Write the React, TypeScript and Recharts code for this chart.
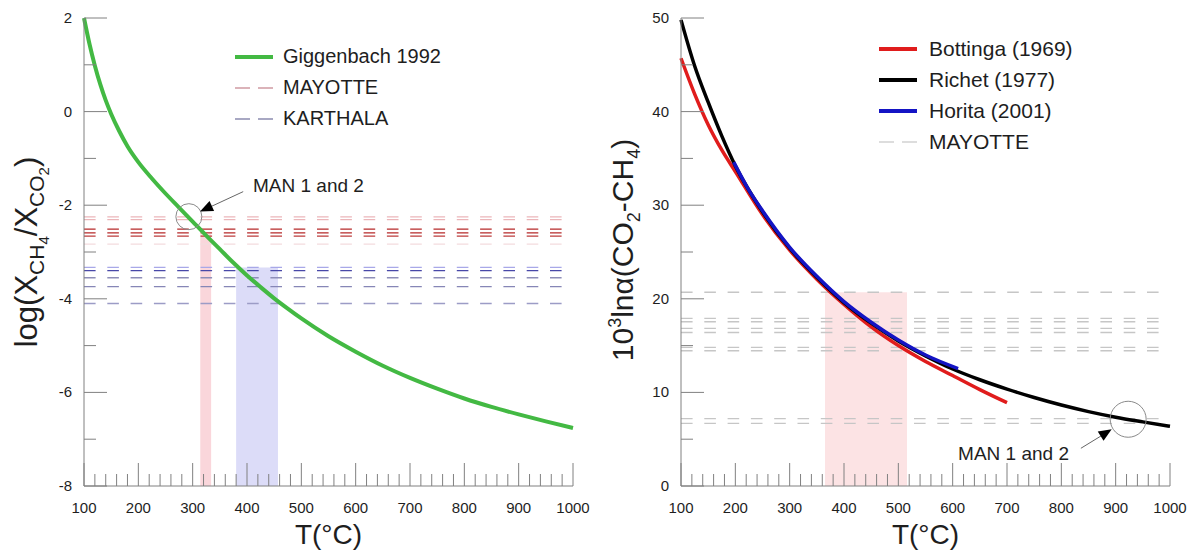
import React from 'react';
import {
  LineChart,
  Line,
  XAxis,
  YAxis,
  ReferenceLine,
  ReferenceArea,
  ReferenceDot,
  Legend,
} from 'recharts';

const FONT = '"Liberation Sans", Arial, Helvetica, sans-serif';
const AXIS_COLOR = '#808080';
const TEXT_COLOR = '#1e1e1e';
const TICK_GAP = 14;

// shared temperature axis (°C)
const tempLabels = [100, 200, 300, 400, 500, 600, 700, 800, 900, 1000];

// left panel: Giggenbach (1992) log(XCH4/XCO2) vs T
const gigTemp = [100, 110, 120, 130, 140, 150, 165, 180, 200, 225, 250, 275, 300, 325, 350, 375, 400, 425, 450, 475, 500, 550, 600, 650, 700, 750, 800, 850, 900, 950, 1000];
const gigLog = [2.0, 1.45, 0.98, 0.58, 0.24, -0.05, -0.42, -0.74, -1.08, -1.43, -1.75, -2.05, -2.35, -2.65, -2.94, -3.23, -3.5, -3.75, -3.99, -4.21, -4.42, -4.8, -5.13, -5.43, -5.69, -5.92, -6.13, -6.31, -6.47, -6.62, -6.76];
const mayotteLog = [-2.25, -2.31, -2.51, -2.59, -2.66, -2.83];
const karthalaLog = [-3.33, -3.4, -3.55, -3.74, -4.1];
const mayotteLogBand = { t1: 314, t2: 334, top: -2.62 };
const karthalaLogBand = { t1: 380, t2: 457, top: -3.33 };
const logLabels = [-8, -6, -4, -2, 0, 2];

// right panel: 10^3 ln alpha (CO2-CH4) vs T
const bottingaTemp = [100, 125, 150, 175, 200, 250, 300, 350, 400, 450, 500, 550, 600, 650, 700];
const bottingaAlpha = [45.7, 41.9, 38.6, 35.9, 33.6, 29.0, 25.2, 22.1, 19.4, 17.0, 15.0, 13.3, 11.8, 10.3, 8.9];
const richetTemp = [100, 125, 150, 175, 200, 250, 300, 350, 400, 450, 500, 550, 600, 650, 700, 750, 800, 850, 900, 950, 1000];
const richetAlpha = [49.8, 44.9, 41.0, 37.4, 34.2, 29.3, 25.4, 22.3, 19.6, 17.4, 15.5, 13.9, 12.5, 11.35, 10.35, 9.45, 8.65, 7.95, 7.35, 6.85, 6.38];
const horitaTemp = [197, 225, 250, 300, 350, 400, 450, 500, 550, 610];
const horitaAlpha = [34.6, 31.6, 29.4, 25.5, 22.4, 19.7, 17.5, 15.6, 14.0, 12.55];
const mayotteAlpha = [20.7, 17.9, 17.55, 16.85, 16.4, 14.8, 14.45, 7.2, 6.7];
const mayotteAlphaBand = { t1: 365, t2: 516, top: 20.7 };
const alphaLabels = [0, 10, 20, 30, 40, 50];

// "MAN 1 and 2" callouts (data coordinates)
const manLeft = { circle: [293, -2.245], text: [411, -1.72], from: [393, -1.71], to: [333.6, -2.03], tip: [313.5, -2.135] };
const manRight = { circle: [923, 7.13], text: [610, 2.78], from: [836, 4.03], to: [874, 5.38], tip: [892.7, 6.06] };

const tempTicks = tempLabels.flatMap((t) => (t === 1000 ? [t] : [t, t + 20, t + 40, t + 60, t + 80]));
const logTicks = logLabels.flatMap((v) => (v === 2 ? [v] : [v, v + 1]));
const alphaTicks = alphaLabels.flatMap((v) => (v === 50 ? [v] : [v, v + 5]));

type TickProps = { x: number; y: number; payload: { value: number } };

function xTick(labels: number[]) {
  return ({ x, y, payload }: TickProps) => {
    const major = labels.includes(payload.value);
    const base = y - TICK_GAP;
    return (
      <g>
        <line x1={x} x2={x} y1={base} y2={base - (major ? 23 : 12)} stroke={AXIS_COLOR} strokeWidth={1} />
        {major && (
          <text x={x} y={base + 27} textAnchor="middle" fontSize={15} fontFamily={FONT} fill={TEXT_COLOR}>
            {payload.value}
          </text>
        )}
      </g>
    );
  };
}

function yTick(labels: number[]) {
  return ({ x, y, payload }: TickProps) => {
    const major = labels.includes(payload.value);
    const base = x + TICK_GAP;
    return (
      <g>
        <line x1={base} x2={base + (major ? 23 : 12)} y1={y} y2={y} stroke={AXIS_COLOR} strokeWidth={1} />
        {major && (
          <text x={base - 12} y={y + 5} textAnchor="end" fontSize={15} fontFamily={FONT} fill={TEXT_COLOR}>
            {payload.value}
          </text>
        )}
      </g>
    );
  };
}

type LegendItem = { label: string; color: string; dashed?: boolean };

function LegendBox({ items, gap, fontSize }: { items: LegendItem[]; gap: number; fontSize: number }) {
  return (
    <div style={{ fontFamily: FONT, fontSize, color: TEXT_COLOR, whiteSpace: 'nowrap' }}>
      {items.map((it) => (
        <div key={it.label} style={{ display: 'flex', alignItems: 'center', height: 31 }}>
          <svg width={38} height={8} style={{ marginRight: gap }}>
            <line
              x1={0}
              x2={38}
              y1={4}
              y2={4}
              stroke={it.color}
              strokeWidth={it.dashed ? 1.3 : 4}
              strokeDasharray={it.dashed ? '15 8' : undefined}
            />
          </svg>
          <span>{it.label}</span>
        </div>
      ))}
    </div>
  );
}

function xTitle() {
  return (props: any) => {
    const vb = props.viewBox;
    return (
      <text x={vb.x + vb.width / 2} y={544} textAnchor="middle" fontSize={28} fontFamily={FONT} fill={TEXT_COLOR}>
        T(°C)
      </text>
    );
  };
}

function arrowHead(angle: number) {
  return (p: any) => (
    <polygon
      points="0,0 -13,-5.5 -13,5.5"
      fill="#000"
      transform={`translate(${p.cx},${p.cy}) rotate(${angle})`}
    />
  );
}

function calloutText(p: any) {
  return (
    <text x={p.cx} y={p.cy} fontSize={19} fontFamily={FONT} fill={TEXT_COLOR}>
      MAN 1 and 2
    </text>
  );
}

const mayotteLogColors = ['#ebb6ba', '#ebb6ba', '#b62a2a', '#b62a2a', '#bd3c3c', '#f4dcde'];
const karthalaLogColors = ['#a8a8e8', '#4848a8', '#8e8eb8', '#8686b6', '#9c9cc6'];

function LeftPanel() {
  const gigData = gigTemp.map((t, i) => ({ t, v: gigLog[i] }));
  return (
    <LineChart width={600} height={557} margin={{ top: 18, right: 27, bottom: 0, left: 0 }}>
      <XAxis
        type="number"
        dataKey="t"
        domain={[100, 1000]}
        ticks={tempTicks}
        interval={0}
        height={71}
        tickSize={0}
        tickMargin={TICK_GAP}
        tickLine={false}
        axisLine={{ stroke: AXIS_COLOR }}
        tick={xTick(tempLabels)}
        label={{ content: xTitle() }}
      />
      <YAxis
        type="number"
        domain={[-8, 2]}
        ticks={logTicks}
        interval={0}
        width={84}
        tickSize={0}
        tickMargin={TICK_GAP}
        tickLine={false}
        axisLine={{ stroke: AXIS_COLOR }}
        tick={yTick(logLabels)}
        label={{
          content: () => (
            <text transform="translate(37,252) rotate(-90)" textAnchor="middle" fontSize={31} fontFamily={FONT} fill={TEXT_COLOR}>
              log(X
              <tspan fontSize={21} dy={7}>CH</tspan>
              <tspan fontSize={15} dy={5}>4</tspan>
              <tspan dy={-12}>/X</tspan>
              <tspan fontSize={21} dy={7}>CO</tspan>
              <tspan fontSize={15} dy={5}>2</tspan>
              <tspan dy={-12}>)</tspan>
            </text>
          ),
        }}
      />
      <ReferenceArea
        x1={mayotteLogBand.t1}
        x2={mayotteLogBand.t2}
        y1={-8}
        y2={mayotteLogBand.top}
        fill="#fad6db"
        fillOpacity={1}
        stroke="none"
      />
      <ReferenceArea
        x1={karthalaLogBand.t1}
        x2={karthalaLogBand.t2}
        y1={-8}
        y2={karthalaLogBand.top}
        fill="#dcdcf8"
        fillOpacity={1}
        stroke="none"
      />
      {mayotteLog.map((v, i) => (
        <ReferenceLine key={`m${i}`} y={v} stroke={mayotteLogColors[i]} strokeWidth={1.3} strokeDasharray="11.6 11.7" />
      ))}
      {karthalaLog.map((v, i) => (
        <ReferenceLine key={`k${i}`} y={v} stroke={karthalaLogColors[i]} strokeWidth={1.3} strokeDasharray="11.6 11.7" />
      ))}
      <Line
        data={gigData}
        dataKey="v"
        type="monotone"
        stroke="#43b943"
        strokeWidth={4}
        dot={false}
        isAnimationActive={false}
      />
      <ReferenceDot x={manLeft.circle[0]} y={manLeft.circle[1]} r={13} fill="none" stroke="#8a8a8a" strokeWidth={1} />
      <ReferenceLine
        segment={[
          { x: manLeft.from[0], y: manLeft.from[1] },
          { x: manLeft.to[0], y: manLeft.to[1] },
        ]}
        stroke="#666"
        strokeWidth={1}
      />
      <ReferenceDot x={manLeft.tip[0]} y={manLeft.tip[1]} shape={arrowHead(155.4)} />
      <ReferenceDot x={manLeft.text[0]} y={manLeft.text[1]} shape={calloutText} />
      <Legend
        layout="vertical"
        align="center"
        verticalAlign="middle"
        wrapperStyle={{ left: 235, top: 41, width: 'auto' }}
        content={() => (
          <LegendBox
            gap={10}
            fontSize={20}
            items={[
              { label: 'Giggenbach 1992', color: '#43b943' },
              { label: 'MAYOTTE', color: '#cf9aa2', dashed: true },
              { label: 'KARTHALA', color: '#8c8cb0', dashed: true },
            ]}
          />
        )}
      />
    </LineChart>
  );
}

function RightPanel() {
  const bottinga = bottingaTemp.map((t, i) => ({ t, v: bottingaAlpha[i] }));
  const richet = richetTemp.map((t, i) => ({ t, v: richetAlpha[i] }));
  const horita = horitaTemp.map((t, i) => ({ t, v: horitaAlpha[i] }));
  return (
    <LineChart width={598} height={557} margin={{ top: 18, right: 28, bottom: 0, left: 0 }}>
      <XAxis
        type="number"
        dataKey="t"
        domain={[100, 1000]}
        ticks={tempTicks}
        interval={0}
        height={71}
        tickSize={0}
        tickMargin={TICK_GAP}
        tickLine={false}
        axisLine={{ stroke: AXIS_COLOR }}
        tick={xTick(tempLabels)}
        label={{ content: xTitle() }}
      />
      <YAxis
        type="number"
        domain={[0, 50]}
        ticks={alphaTicks}
        interval={0}
        width={81}
        tickSize={0}
        tickMargin={TICK_GAP}
        tickLine={false}
        axisLine={{ stroke: AXIS_COLOR }}
        tick={yTick(alphaLabels)}
        label={{
          content: () => (
            <text transform="translate(33,250) rotate(-90)" textAnchor="middle" fontSize={30} fontFamily={FONT} fill={TEXT_COLOR}>
              10
              <tspan fontSize={18} dy={-12}>3</tspan>
              <tspan dy={12}>lnα(CO</tspan>
              <tspan fontSize={18} dy={7}>2</tspan>
              <tspan dy={-7}>-CH</tspan>
              <tspan fontSize={18} dy={7}>4</tspan>
              <tspan dy={-7}>)</tspan>
            </text>
          ),
        }}
      />
      <ReferenceArea
        x1={mayotteAlphaBand.t1}
        x2={mayotteAlphaBand.t2}
        y1={0}
        y2={mayotteAlphaBand.top}
        fill="#fce3e4"
        fillOpacity={1}
        stroke="none"
      />
      {mayotteAlpha.map((v, i) => (
        <ReferenceLine key={`a${i}`} y={v} stroke="#c6c6c6" strokeWidth={1.3} strokeDasharray="11.6 11.7" />
      ))}
      <Line data={bottinga} dataKey="v" type="monotone" stroke="#e01c1c" strokeWidth={3.5} dot={false} isAnimationActive={false} />
      <Line data={richet} dataKey="v" type="monotone" stroke="#000000" strokeWidth={3.5} dot={false} isAnimationActive={false} />
      <Line data={horita} dataKey="v" type="monotone" stroke="#1414c4" strokeWidth={3.5} dot={false} isAnimationActive={false} />
      <ReferenceDot x={manRight.circle[0]} y={manRight.circle[1]} r={18} fill="none" stroke="#8a8a8a" strokeWidth={1} />
      <ReferenceLine
        segment={[
          { x: manRight.from[0], y: manRight.from[1] },
          { x: manRight.to[0], y: manRight.to[1] },
        ]}
        stroke="#666"
        strokeWidth={1}
      />
      <ReferenceDot x={manRight.tip[0]} y={manRight.tip[1]} shape={arrowHead(-31.8)} />
      <ReferenceDot x={manRight.text[0]} y={manRight.text[1]} shape={calloutText} />
      <Legend
        layout="vertical"
        align="center"
        verticalAlign="middle"
        wrapperStyle={{ left: 279, top: 33, width: 'auto' }}
        content={() => (
          <LegendBox
            gap={12}
            fontSize={21}
            items={[
              { label: 'Bottinga (1969)', color: '#e01c1c' },
              { label: 'Richet (1977)', color: '#000000' },
              { label: 'Horita (2001)', color: '#1414c4' },
              { label: 'MAYOTTE', color: '#d2d2d2', dashed: true },
            ]}
          />
        )}
      />
    </LineChart>
  );
}

export default function App() {
  return (
    <div style={{ position: 'absolute', left: 0, top: 0, width: 1198, height: 557, background: '#fff', overflow: 'hidden' }}>
      <div style={{ position: 'absolute', left: 0, top: 0 }}>
        <LeftPanel />
      </div>
      <div style={{ position: 'absolute', left: 600, top: 0 }}>
        <RightPanel />
      </div>
    </div>
  );
}
